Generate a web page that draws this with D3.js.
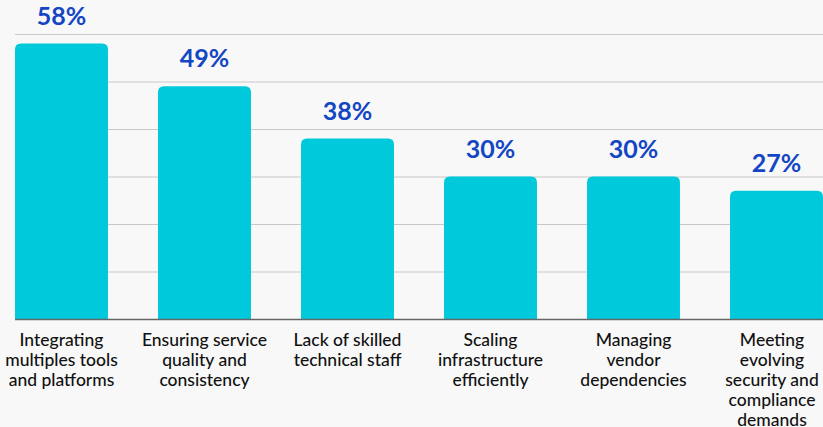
<!DOCTYPE html>
<html>
<head>
<meta charset="utf-8">
<script src="https://cdn.jsdelivr.net/npm/d3@7"></script>
<style>
  html, body { margin: 0; padding: 0; background: #f8f8f8; }
  svg { display: block; }
</style>
</head>
<body>
<svg id="chart" width="823" height="427"></svg>
<script>
// Survey: biggest challenges (share of respondents)
const categories = [
  "Integrating multiples tools and platforms",
  "Ensuring service quality and consistency",
  "Lack of skilled technical staff",
  "Scaling infrastructure efficiently",
  "Managing vendor dependencies",
  "Meeting evolving security and compliance demands"
];
const categoryLines = [
  ["Integrating", "multiples tools", "and platforms"],
  ["Ensuring service", "quality and", "consistency"],
  ["Lack of skilled", "technical staff"],
  ["Scaling", "infrastructure", "efficiently"],
  ["Managing", "vendor", "dependencies"],
  ["Meeting", "evolving", "security and", "compliance", "demands"]
];
const values = [58, 49, 38, 30, 30, 27];
const gridTicks = [0, 10, 20, 30, 40, 50, 60];

const svg = d3.select("#chart");
const W = 823;
const plotTop = 34, plotBottom = 319;

const x = d3.scaleBand()
  .domain(categories)
  .range([-10, 848])
  .paddingInner(0.35)
  .paddingOuter(0.175);

const y = d3.scaleLinear().domain([0, 60]).range([plotBottom, plotTop]);

const font = "Lato, 'Open Sans', sans-serif";

// horizontal gridlines
svg.append("g")
  .selectAll("line")
  .data(gridTicks.filter(d => d > 0))
  .join("line")
  .attr("x1", x(categories[0]))
  .attr("x2", W)
  .attr("y1", d => y(d) + 0.5)
  .attr("y2", d => y(d) + 0.5)
  .attr("stroke", "#c8c8c8")
  .attr("stroke-width", 1.2);

// bars with rounded top corners
const r = 6;
function barPath(d, i) {
  const x0 = x(categories[i]), w = x.bandwidth();
  const y0 = y(d), y1 = y(0);
  return `M${x0},${y1} V${y0 + r} Q${x0},${y0} ${x0 + r},${y0} H${x0 + w - r} Q${x0 + w},${y0} ${x0 + w},${y0 + r} V${y1} Z`;
}
svg.append("g")
  .selectAll("path")
  .data(values)
  .join("path")
  .attr("d", barPath)
  .attr("fill", "#00c9dc");

// baseline
svg.append("line")
  .attr("x1", x(categories[0]))
  .attr("x2", W)
  .attr("y1", y(0) + 0.5)
  .attr("y2", y(0) + 0.5)
  .attr("stroke", "#666")
  .attr("stroke-width", 1.3);

// value labels
svg.append("g")
  .selectAll("text")
  .data(values)
  .join("text")
  .attr("x", (d, i) => x(categories[i]) + x.bandwidth() / 2)
  .attr("y", d => y(d) - 19)
  .attr("text-anchor", "middle")
  .attr("font-family", font)
  .attr("font-weight", 700)
  .attr("font-size", 25)
  .attr("fill", "#1446c4")
  .text(d => d + "%");

// category labels
const lab = svg.append("g")
  .selectAll("text")
  .data(categoryLines)
  .join("text")
  .attr("x", (d, i) => Math.min(x(categories[i]) + x.bandwidth() / 2, W - 51))
  .attr("y", 346)
  .attr("text-anchor", "middle")
  .attr("font-family", font)
  .attr("font-weight", 500)
  .attr("font-size", 17.5)
  .attr("fill", "#111");
lab.selectAll("tspan")
  .data(d => d)
  .join("tspan")
  .attr("x", function () { return this.parentNode.getAttribute("x"); })
  .attr("dy", (d, i) => i === 0 ? 0 : 20)
  .text(d => d);
</script>
</body>
</html>
